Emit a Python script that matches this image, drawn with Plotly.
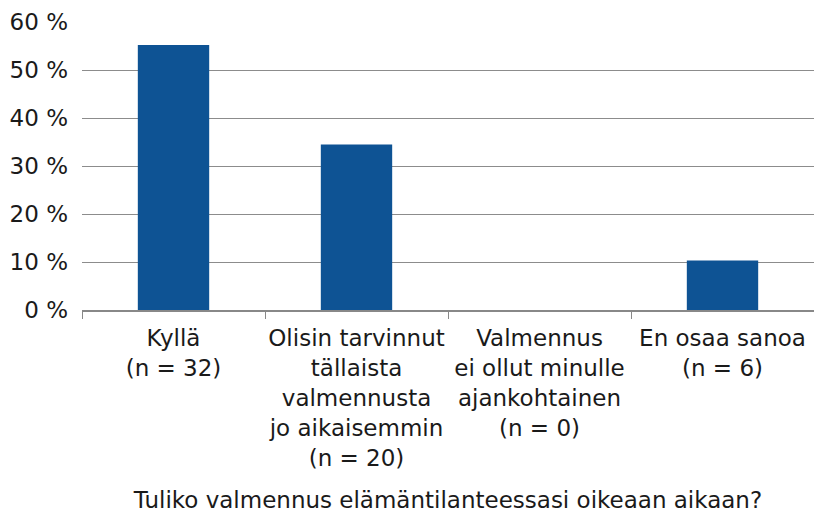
import plotly.graph_objects as go

categories = [
    "Kyllä<br>(n = 32)",
    "Olisin tarvinnut<br>tällaista<br>valmennusta<br>jo aikaisemmin<br>(n = 20)",
    "Valmennus<br>ei ollut minulle<br>ajankohtainen<br>(n = 0)",
    "En osaa sanoa<br>(n = 6)",
]
values = [55.2, 34.5, 0.0, 10.3]
y_ticks = [0, 10, 20, 30, 40, 50, 60]
y_tick_labels = ["0 %", "10 %", "20 %", "30 %", "40 %", "50 %", "60 %"]
x_title = "Tuliko valmennus elämäntilanteessasi oikeaan aikaan?"

FONT = "DejaVu Sans, Verdana, sans-serif"
FS = 23
TXT = "#1a1a1a"

fig = go.Figure(
    go.Bar(
        x=categories,
        y=values,
        marker=dict(color="#0E5394", line=dict(width=0)),
        hoverinfo="skip",
    )
)

fig.update_layout(
    width=814,
    height=514,
    margin=dict(l=82, r=0, t=22, b=204),
    plot_bgcolor="white",
    paper_bgcolor="white",
    bargap=0.61,
    showlegend=False,
    font=dict(family=FONT, size=FS, color=TXT),
)

fig.update_xaxes(
    type="category",
    tickson="boundaries",
    tickangle=0,
    ticks="outside",
    ticklen=7,
    tickcolor="#888888",
    tickwidth=1,
    showline=True,
    linecolor="#888888",
    linewidth=1.5,
    showgrid=False,
    ticklabelstandoff=7,
    tickfont=dict(family=FONT, size=FS, color=TXT),
    title=dict(text=x_title, font=dict(family=FONT, size=FS, color=TXT), standoff=22),
    automargin=False,
)

fig.update_yaxes(
    range=[0, 60],
    tickmode="array",
    tickvals=y_ticks,
    ticktext=y_tick_labels,
    showgrid=True,
    gridcolor="#8c8c8c",
    gridwidth=1.3,
    zeroline=False,
    showline=False,
    ticks="",
    ticklabelstandoff=13,
    tickfont=dict(family=FONT, size=FS, color=TXT),
    automargin=False,
)

fig.write_html(
    "out.html",
    config={"displayModeBar": False},
    post_script="document.body.style.margin='0';",
)
